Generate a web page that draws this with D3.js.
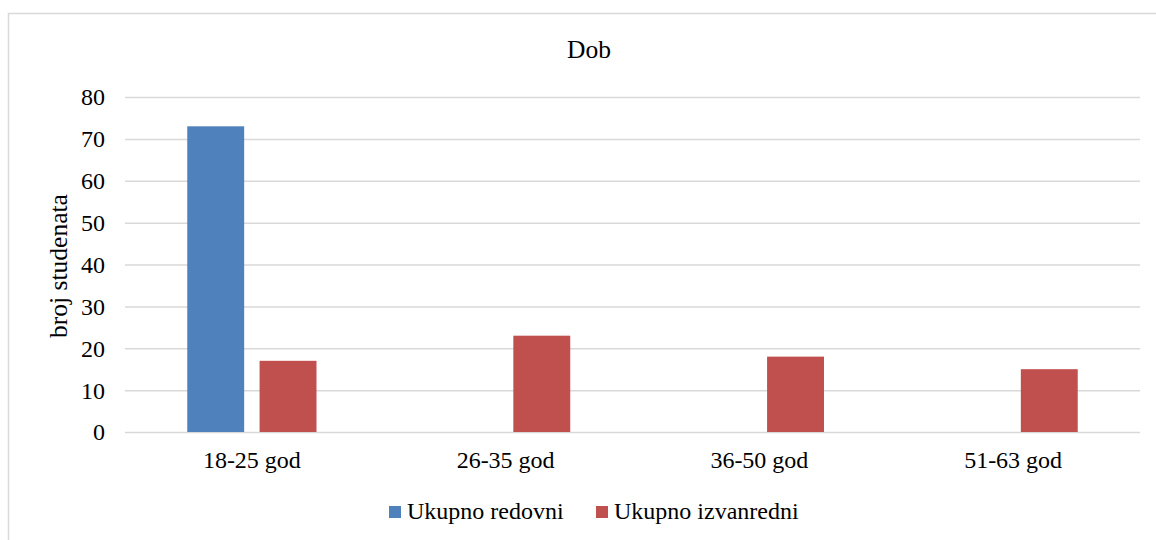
<!DOCTYPE html>
<html>
<head>
<meta charset="utf-8">
<script src="https://cdn.jsdelivr.net/npm/d3@7"></script>
<style>
  body { margin: 0; background: #fff; }
  svg text { font-family: "Liberation Serif", "Times New Roman", serif; fill: #000; }
</style>
</head>
<body>
<svg id="chart"></svg>
<script>
const categories = ["18-25 god", "26-35 god", "36-50 god", "51-63 god"];
const seriesNames = ["Ukupno redovni", "Ukupno izvanredni"];
const redovni = [73, 0, 0, 0];
const izvanredni = [17, 23, 18, 15];
const yTicks = [0, 10, 20, 30, 40, 50, 60, 70, 80];

const colors = ["#4f81bd", "#c0504d"];
const width = 1156;
const height = 540;
const margin = { left: 125, right: 16, top: 97, bottom: 108 };

const series = [redovni, izvanredni];
const rows = categories.map((c, i) => ({
  cat: c,
  values: series.map((s, j) => ({ key: seriesNames[j], value: s[i] })),
}));

const svg = d3.select("#chart").attr("width", width).attr("height", height);

// outer chart frame (runs off right and bottom edges)
svg.append("rect")
  .attr("x", 8.5).attr("y", 13.5)
  .attr("width", width).attr("height", height)
  .attr("fill", "none").attr("stroke", "#d9d9d9").attr("stroke-width", 1.5);

const x0 = d3.scaleBand()
  .domain(categories)
  .range([margin.left, width - margin.right]);

// excel-ish gap width 219%, overlap -27%
const x1 = d3.scaleBand()
  .domain(seriesNames)
  .range([0, x0.bandwidth()])
  .paddingInner(0.213)
  .paddingOuter(0.861);

const y = d3.scaleLinear()
  .domain([0, 80])
  .range([height - margin.bottom, margin.top]);

// gridlines + y labels
const yAxis = svg.append("g")
  .attr("transform", `translate(${margin.left},0)`)
  .call(d3.axisLeft(y).tickValues(yTicks).tickSize(-(width - margin.right - margin.left)).tickPadding(20))
  .call((g) => g.select(".domain").remove());
yAxis.selectAll(".tick line").attr("stroke", "#d9d9d9").attr("stroke-width", 1.5);
yAxis.selectAll(".tick text")
  .attr("font-size", 24)
  .attr("dy", "0.33em");

// bars
svg.append("g")
  .selectAll("g")
  .data(rows)
  .join("g")
  .attr("transform", (d) => `translate(${x0(d.cat)},0)`)
  .selectAll("rect")
  .data((d) => d.values.filter((v) => v.value > 0))
  .join("rect")
  .attr("x", (d) => x1(d.key))
  .attr("width", x1.bandwidth())
  .attr("y", (d) => y(d.value))
  .attr("height", (d) => y(0) - y(d.value))
  .attr("fill", (d) => colors[seriesNames.indexOf(d.key)]);

// x labels
const xAxis = svg.append("g")
  .attr("transform", `translate(0,${height - margin.bottom})`)
  .call(d3.axisBottom(x0).tickSize(0).tickPadding(36))
  .call((g) => g.select(".domain").remove());
xAxis.selectAll(".tick text")
  .attr("font-size", 24)
  .attr("dy", 0);

// title
svg.append("text")
  .attr("x", 589).attr("y", 58)
  .attr("text-anchor", "middle")
  .attr("font-size", 25.5)
  .text("Dob");

// y axis title
svg.append("text")
  .attr("transform", `translate(67,266) rotate(-90)`)
  .attr("text-anchor", "middle")
  .attr("font-size", 25.5)
  .text("broj studenata");

// legend
const legendX = [389, 596];
const legend = svg.append("g")
  .selectAll("g")
  .data(seriesNames)
  .join("g")
  .attr("transform", (d, i) => `translate(${legendX[i]},506)`);
legend.append("rect")
  .attr("width", 12).attr("height", 12)
  .attr("fill", (d, i) => colors[i]);
legend.append("text")
  .attr("x", 18).attr("y", 12.5)
  .attr("font-size", 24)
  .text((d) => d);
</script>
</body>
</html>
